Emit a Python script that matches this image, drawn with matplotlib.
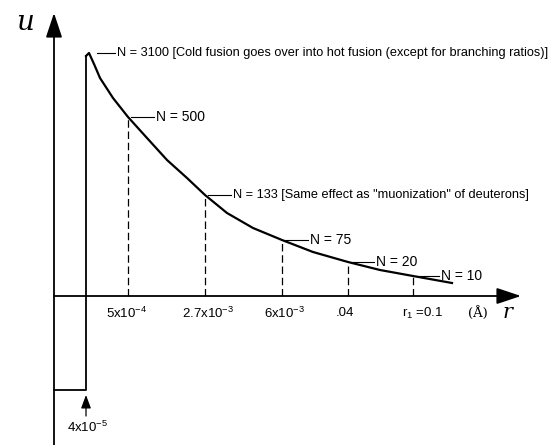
import matplotlib
matplotlib.use("Agg")
import matplotlib.pyplot as plt

plt.rcParams['font.family'] = ['Liberation Sans', 'DejaVu Sans']
plt.rcParams['mathtext.fontset'] = 'custom'
plt.rcParams['mathtext.rm'] = 'Liberation Sans'

# schematic potential u(r): x is the (non-linear) position along r, u the height
well_x = [0, 32]
well_depth = -94

curve_x = [32, 35, 40, 46, 59, 74, 93, 113, 133, 151, 173, 199, 228, 259, 294, 326, 359, 398]
curve_u = [240, 243, 232, 218, 198, 179, 158, 136, 118, 101, 83, 68, 56, 44, 34, 26, 20, 13]

mark_x = [35, 74, 151, 228, 294, 359]
mark_u = [243, 179, 101, 56, 34, 20]
mark_labels = ["N = 3100 [Cold fusion goes over into hot fusion (except for branching ratios)]",
               "N = 500",
               "N = 133 [Same effect as \"muonization\" of deuterons]",
               "N = 75",
               "N = 20",
               "N = 10"]
mark_size = [9.2, 10, 9.2, 10, 10, 10]

tick_x = [73, 154, 231, 291]
tick_labels = [r"5x10$^{\mathregular{-4}}$", r"2.7x10$^{\mathregular{-3}}$",
               r"6x10$^{\mathregular{-3}}$", ".04"]

fig = plt.figure(figsize=(5.57, 4.45), dpi=100)
ax = fig.add_axes([0, 0, 1, 1])
ax.set_xlim(-54, 503)
ax.set_ylim(-149, 296)
ax.axis('off')

# axes with arrows
ax.annotate('', xy=(0, 283), xytext=(0, -149),
            arrowprops=dict(arrowstyle='-|>,head_length=1.5,head_width=0.5', lw=1.3,
                            color='black', shrinkA=0, shrinkB=0, mutation_scale=10))
ax.annotate('', xy=(467, 0), xytext=(0, 0),
            arrowprops=dict(arrowstyle='-|>,head_length=1.5,head_width=0.5', lw=1.3,
                            color='black', shrinkA=0, shrinkB=0, mutation_scale=10))
ax.text(-29, 274, 'u', fontsize=20, family='DejaVu Serif', style='italic',
        ha='center', va='center')
ax.text(454, -17, 'r', fontsize=15, family='DejaVu Serif', style='italic',
        ha='center', va='center')

# square well
ax.plot([well_x[0], well_x[1], well_x[1]], [well_depth, well_depth, curve_u[0]],
        color='black', lw=1.3)
ax.plot(curve_x, curve_u, color='black', lw=1.6, solid_joinstyle='round')

# marks, dashed drops and labels
for i, (x, u, lab, fs) in enumerate(zip(mark_x, mark_u, mark_labels, mark_size)):
    if i > 0:
        ax.plot([x, x], [0, u], color='black', lw=0.9, ls=(0, (6, 3)))
    x0 = x + (8 if i == 0 else 3)
    ax.plot([x0, x + 26], [u, u], color='black', lw=0.8)
    ax.text(x + 28, u, lab, fontsize=fs, ha='left', va='center')

for x, lab in zip(tick_x, tick_labels):
    ax.text(x, -17, lab, fontsize=9.5, ha='center', va='center')
ax.text(348, -17, r"r$_{\mathregular{1}}$ =0.1", fontsize=9.5, ha='left', va='center')
ax.text(424, -17, u"(Å)", fontsize=9.5, family='DejaVu Serif', ha='center', va='center')

# marker for well edge
ax.annotate('', xy=(32, -99), xytext=(32, -120),
            arrowprops=dict(arrowstyle='-|>,head_length=0.8,head_width=0.3', lw=0.9,
                            color='black', shrinkA=0, shrinkB=0, mutation_scale=10))
ax.text(34, -131, r"4x10$^{\mathregular{-5}}$", fontsize=9.5, ha='center', va='center')

fig.savefig('out.png', dpi=100)
